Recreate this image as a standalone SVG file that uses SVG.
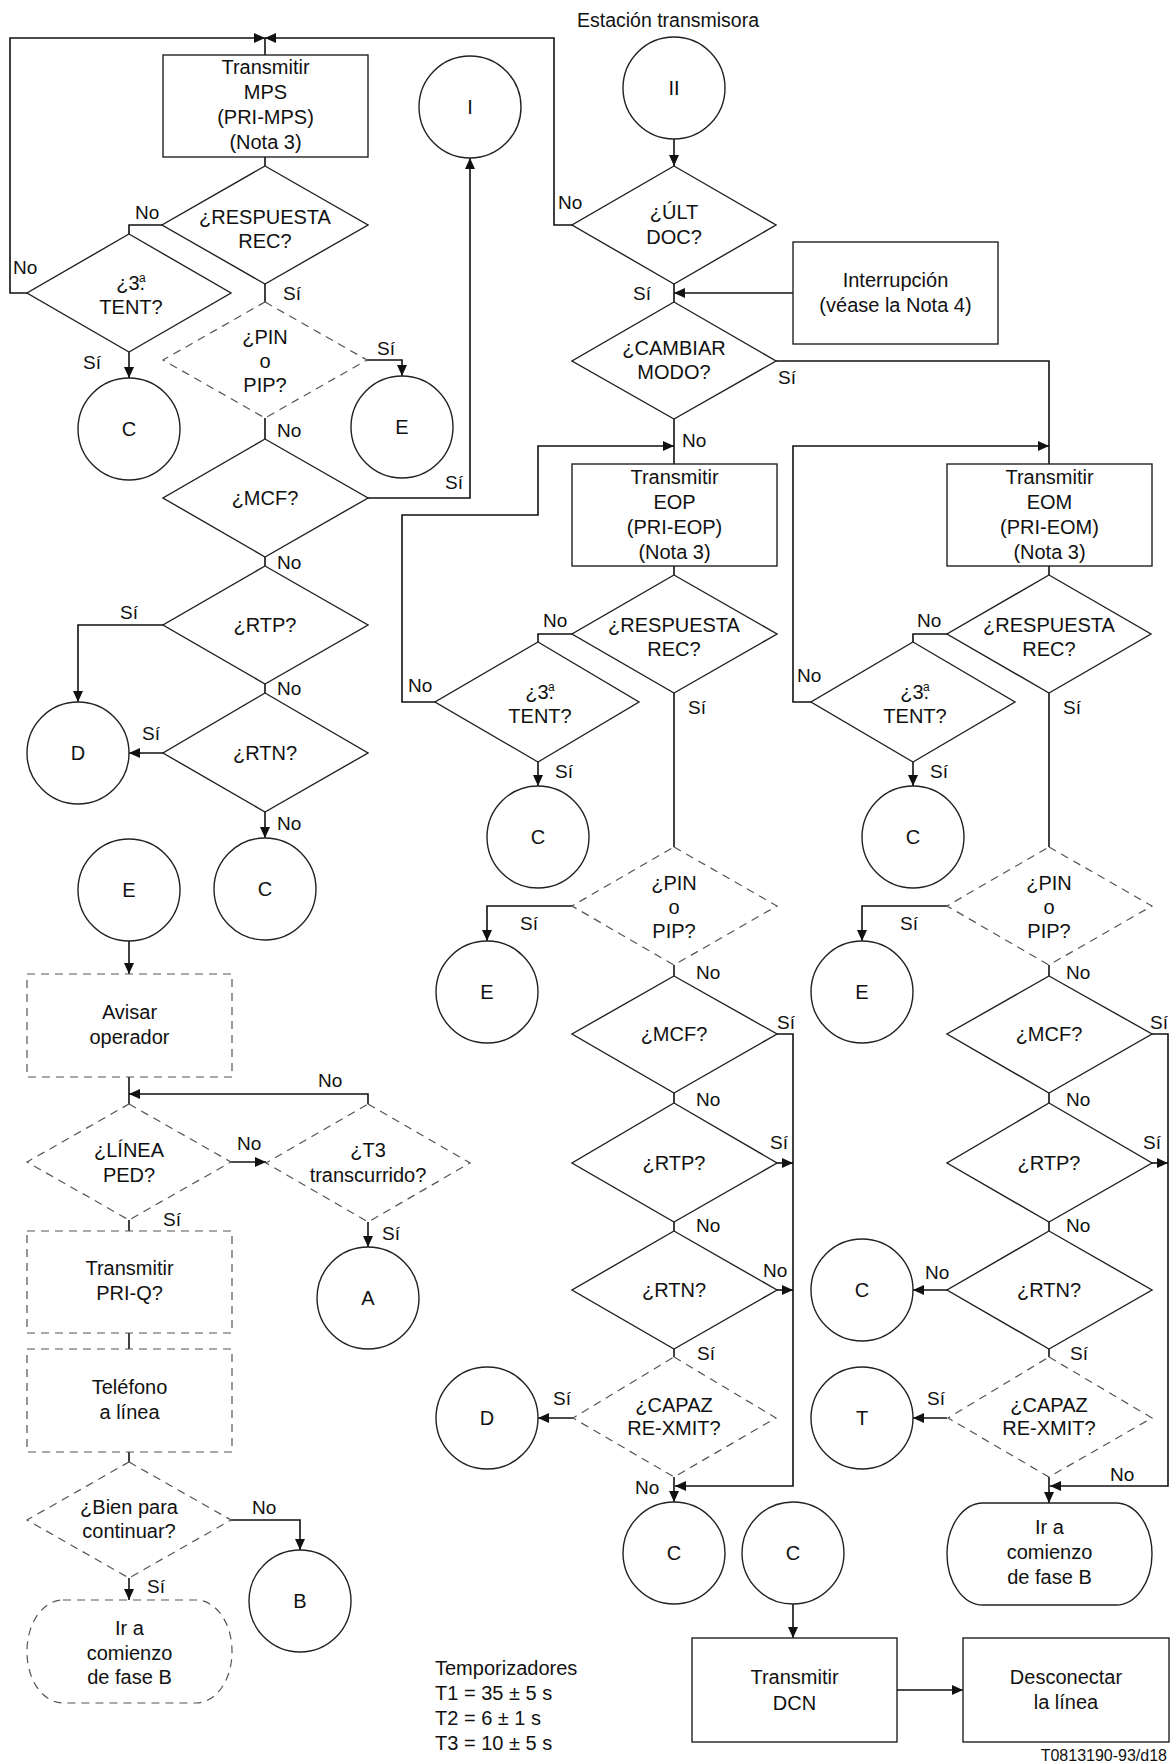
<svg xmlns="http://www.w3.org/2000/svg" width="1174" height="1763" viewBox="0 0 1174 1763">
<style>
  .n{fill:#fff;stroke:#222;stroke-width:1.4}
  .d{fill:#fff;stroke:#555;stroke-width:1.2;stroke-dasharray:8 6}
  .c{fill:none;stroke:#111;stroke-width:1.6}
  text{font-family:"Liberation Sans",Arial,sans-serif;fill:#111}
  .t{font-size:20px;text-anchor:middle}
  .l{font-size:19px}
  .s{font-size:12px}
</style>
<defs>
  <marker id="ah" markerUnits="userSpaceOnUse" markerWidth="11" markerHeight="10" refX="11" refY="5" orient="auto">
    <path d="M0,0 L11,5 L0,10 z" fill="#111"/>
  </marker>
</defs>
<rect width="1174" height="1763" fill="#fff"/>

<!-- connectors -->
<g id="connectors" class="c">
  <path d="M27,293 H10 V38 H265" marker-end="url(#ah)"/>
  <path d="M572,225 H554 V38 H265" marker-end="url(#ah)"/>
  <path d="M265,38 V55"/>
  <path d="M265,157 V166"/>
  <path d="M163,225 H129 V234"/>
  <path d="M129,352 V378" marker-end="url(#ah)"/>
  <path d="M265,284 V302"/>
  <path d="M367,360 H402 V376" marker-end="url(#ah)"/>
  <path d="M265,418 V439"/>
  <path d="M368,498 H470 V158" marker-end="url(#ah)"/>
  <path d="M265,557 V566"/>
  <path d="M163,625 H78 V702" marker-end="url(#ah)"/>
  <path d="M265,684 V693"/>
  <path d="M163,753 H129" marker-end="url(#ah)"/>
  <path d="M265,812 V838" marker-end="url(#ah)"/>
  <path d="M129,941 V974" marker-end="url(#ah)"/>
  <path d="M129,1077 V1104"/>
  <path d="M368,1104 V1094 H129" marker-end="url(#ah)"/>
  <path d="M231,1162 H266" marker-end="url(#ah)"/>
  <path d="M368,1222 V1247" marker-end="url(#ah)"/>
  <path d="M129,1220 V1231"/>
  <path d="M129,1333 V1349"/>
  <path d="M129,1452 V1462"/>
  <path d="M231,1520 H300 V1550" marker-end="url(#ah)"/>
  <path d="M129,1578 V1600" marker-end="url(#ah)"/>

  <path d="M674,139 V166" marker-end="url(#ah)"/>
  <path d="M674,284 V302"/>
  <path d="M793,293 H674" marker-end="url(#ah)"/>
  <path d="M674,419 V464"/>
  <path d="M435,702 H402 V515 H538 V446 H674" marker-end="url(#ah)"/>
  <path d="M776,361 H1049 V464"/>
  <path d="M811,702 H793 V446 H1049" marker-end="url(#ah)"/>
  <path d="M674,566 V575"/>
  <path d="M572,634 H538 V642"/>
  <path d="M538,762 V786" marker-end="url(#ah)"/>
  <path d="M674,693 V847"/>
  <path d="M572,906 H487 V941" marker-end="url(#ah)"/>
  <path d="M674,965 V976"/>
  <path d="M674,1093 V1103"/>
  <path d="M674,1222 V1231"/>
  <path d="M674,1349 V1357"/>
  <path d="M777,1034 H793 V1486 H675" marker-end="url(#ah)"/>
  <path d="M777,1163 H793" marker-end="url(#ah)"/>
  <path d="M777,1290 H793" marker-end="url(#ah)"/>
  <path d="M573,1418 H538" marker-end="url(#ah)"/>
  <path d="M674,1477 V1502" marker-end="url(#ah)"/>
  <path d="M793,1604 V1638" marker-end="url(#ah)"/>
  <path d="M897,1690 H963" marker-end="url(#ah)"/>

  <path d="M1049,566 V575"/>
  <path d="M947,634 H913 V642"/>
  <path d="M913,762 V786" marker-end="url(#ah)"/>
  <path d="M1049,693 V847"/>
  <path d="M947,906 H862 V941" marker-end="url(#ah)"/>
  <path d="M1049,965 V976"/>
  <path d="M1049,1093 V1103"/>
  <path d="M1049,1222 V1231"/>
  <path d="M1049,1349 V1357"/>
  <path d="M1152,1034 H1168 V1486 H1050" marker-end="url(#ah)"/>
  <path d="M1152,1163 H1168" marker-end="url(#ah)"/>
  <path d="M947,1290 H913" marker-end="url(#ah)"/>
  <path d="M947,1418 H913" marker-end="url(#ah)"/>
  <path d="M1049,1477 V1503" marker-end="url(#ah)"/>
</g>

<!-- branch labels -->
<g id="labels" class="l">
  <text x="135" y="219">No</text>
  <text x="13" y="274">No</text>
  <text x="83" y="369">Sí</text>
  <text x="283" y="300">Sí</text>
  <text x="377" y="355">Sí</text>
  <text x="277" y="437">No</text>
  <text x="445" y="489">Sí</text>
  <text x="277" y="569">No</text>
  <text x="120" y="619">Sí</text>
  <text x="277" y="695">No</text>
  <text x="142" y="740">Sí</text>
  <text x="277" y="830">No</text>
  <text x="318" y="1087">No</text>
  <text x="237" y="1150">No</text>
  <text x="382" y="1240">Sí</text>
  <text x="163" y="1226">Sí</text>
  <text x="252" y="1514">No</text>
  <text x="147" y="1593">Sí</text>

  <text x="558" y="209">No</text>
  <text x="633" y="300">Sí</text>
  <text x="778" y="384">Sí</text>
  <text x="682" y="447">No</text>
  <text x="543" y="627">No</text>
  <text x="408" y="692">No</text>
  <text x="555" y="778">Sí</text>
  <text x="688" y="714">Sí</text>
  <text x="520" y="930">Sí</text>
  <text x="696" y="979">No</text>
  <text x="777" y="1029">Sí</text>
  <text x="696" y="1106">No</text>
  <text x="770" y="1149">Sí</text>
  <text x="696" y="1232">No</text>
  <text x="763" y="1277">No</text>
  <text x="697" y="1360">Sí</text>
  <text x="553" y="1405">Sí</text>
  <text x="635" y="1494">No</text>

  <text x="917" y="627">No</text>
  <text x="797" y="682">No</text>
  <text x="930" y="778">Sí</text>
  <text x="1063" y="714">Sí</text>
  <text x="900" y="930">Sí</text>
  <text x="1066" y="979">No</text>
  <text x="1150" y="1029">Sí</text>
  <text x="1066" y="1106">No</text>
  <text x="1143" y="1149">Sí</text>
  <text x="1066" y="1232">No</text>
  <text x="925" y="1279">No</text>
  <text x="1070" y="1360">Sí</text>
  <text x="927" y="1405">Sí</text>
  <text x="1110" y="1481">No</text>
</g>

<text class="t" x="668" y="27" style="font-size:19.5px">Estación transmisora</text>

<!-- left column: MPS loop -->
<g id="mps">
  <rect class="n" x="163" y="55" width="205" height="102"/>
  <text class="t" x="265.5" y="74">Transmitir</text>
  <text class="t" x="265.5" y="99">MPS</text>
  <text class="t" x="265.5" y="124">(PRI-MPS)</text>
  <text class="t" x="265.5" y="149">(Nota 3)</text>
</g>
<g id="resp1">
  <polygon class="n" points="265,166 368,225 265,284 162,225"/>
  <text class="t" x="265" y="224">¿RESPUESTA</text>
  <text class="t" x="265" y="248">REC?</text>
</g>
<g id="tent1">
  <polygon class="n" points="129,234 231,293 129,352 27,293"/>
  <text class="t" x="131" y="290">¿3.<tspan class="s" dx="-6" dy="-8">a</tspan></text>
  <text class="t" x="131" y="314">TENT?</text>
</g>
<g id="pin1">
  <polygon class="d" points="265,302 367,360 265,418 163,360"/>
  <text class="t" x="265" y="344">¿PIN</text>
  <text class="t" x="265" y="368">o</text>
  <text class="t" x="265" y="392">PIP?</text>
</g>
<g id="mcf1">
  <polygon class="n" points="265,439 368,498 265,557 163,498"/>
  <text class="t" x="265" y="505">¿MCF?</text>
</g>
<g id="rtp1">
  <polygon class="n" points="265,566 368,625 265,684 163,625"/>
  <text class="t" x="265" y="632">¿RTP?</text>
</g>
<g id="rtn1">
  <polygon class="n" points="265,693 368,753 265,812 163,753"/>
  <text class="t" x="265" y="760">¿RTN?</text>
</g>
<g id="c1"><circle class="n" cx="129" cy="429" r="51"/><text class="t" x="129" y="436">C</text></g>
<g id="e1"><circle class="n" cx="402" cy="427" r="51"/><text class="t" x="402" y="434">E</text></g>
<g id="i"><circle class="n" cx="470" cy="107" r="51"/><text class="t" x="470" y="114">I</text></g>
<g id="d1"><circle class="n" cx="78" cy="753" r="51"/><text class="t" x="78" y="760">D</text></g>
<g id="c2"><circle class="n" cx="265" cy="889" r="51"/><text class="t" x="265" y="896">C</text></g>

<!-- left column: operator branch -->
<g id="e2"><circle class="n" cx="129" cy="890" r="51"/><text class="t" x="129" y="897">E</text></g>
<g id="avisar">
  <rect class="d" x="27" y="974" width="205" height="103"/>
  <text class="t" x="129.5" y="1019">Avisar</text>
  <text class="t" x="129.5" y="1044">operador</text>
</g>
<g id="linea">
  <polygon class="d" points="129,1104 231,1162 129,1220 27,1162"/>
  <text class="t" x="129" y="1157">¿LÍNEA</text>
  <text class="t" x="129" y="1182">PED?</text>
</g>
<g id="t3">
  <polygon class="d" points="368,1104 470,1163 368,1222 266,1163"/>
  <text class="t" x="368" y="1157">¿T3</text>
  <text class="t" x="368" y="1182">transcurrido?</text>
</g>
<g id="a"><circle class="n" cx="368" cy="1298" r="51"/><text class="t" x="368" y="1305">A</text></g>
<g id="priq">
  <rect class="d" x="27" y="1231" width="205" height="102"/>
  <text class="t" x="129.5" y="1275">Transmitir</text>
  <text class="t" x="129.5" y="1300">PRI-Q?</text>
</g>
<g id="telefono">
  <rect class="d" x="27" y="1349" width="205" height="103"/>
  <text class="t" x="129.5" y="1394">Teléfono</text>
  <text class="t" x="129.5" y="1419">a línea</text>
</g>
<g id="bien">
  <polygon class="d" points="129,1462 231,1520 129,1578 27,1520"/>
  <text class="t" x="129" y="1514">¿Bien para</text>
  <text class="t" x="129" y="1538">continuar?</text>
</g>
<g id="b"><circle class="n" cx="300" cy="1601" r="51"/><text class="t" x="300" y="1608">B</text></g>
<g id="fase-b1">
  <rect class="d" x="27" y="1600" width="205" height="103" rx="36" ry="51"/>
  <text class="t" x="129.5" y="1635">Ir a</text>
  <text class="t" x="129.5" y="1660">comienzo</text>
  <text class="t" x="129.5" y="1684">de fase B</text>
</g>

<!-- middle column: EOP -->
<g id="ii"><circle class="n" cx="674" cy="88" r="51"/><text class="t" x="674" y="95">II</text></g>
<g id="ult">
  <polygon class="n" points="674,166 776,225 674,284 572,225"/>
  <text class="t" x="674" y="219">¿ÚLT</text>
  <text class="t" x="674" y="244">DOC?</text>
</g>
<g id="interrupcion">
  <rect class="n" x="793" y="242" width="205" height="102"/>
  <text class="t" x="895.5" y="287">Interrupción</text>
  <text class="t" x="895.5" y="312">(véase la Nota 4)</text>
</g>
<g id="cambiar">
  <polygon class="n" points="674,302 776,361 674,419 572,361"/>
  <text class="t" x="674" y="355">¿CAMBIAR</text>
  <text class="t" x="674" y="379">MODO?</text>
</g>
<g id="eop">
  <rect class="n" x="572" y="464" width="205" height="102"/>
  <text class="t" x="674.5" y="484">Transmitir</text>
  <text class="t" x="674.5" y="509">EOP</text>
  <text class="t" x="674.5" y="534">(PRI-EOP)</text>
  <text class="t" x="674.5" y="559">(Nota 3)</text>
</g>
<g id="resp2">
  <polygon class="n" points="674,575 777,634 674,693 572,634"/>
  <text class="t" x="674" y="632">¿RESPUESTA</text>
  <text class="t" x="674" y="656">REC?</text>
</g>
<g id="tent2">
  <polygon class="n" points="538,642 639,702 538,762 435,702"/>
  <text class="t" x="540" y="699">¿3.<tspan class="s" dx="-6" dy="-8">a</tspan></text>
  <text class="t" x="540" y="723">TENT?</text>
</g>
<g id="c3"><circle class="n" cx="538" cy="837" r="51"/><text class="t" x="538" y="844">C</text></g>
<g id="pin2">
  <polygon class="d" points="674,847 777,906 674,965 572,906"/>
  <text class="t" x="674" y="890">¿PIN</text>
  <text class="t" x="674" y="914">o</text>
  <text class="t" x="674" y="938">PIP?</text>
</g>
<g id="e3"><circle class="n" cx="487" cy="992" r="51"/><text class="t" x="487" y="999">E</text></g>
<g id="mcf2">
  <polygon class="n" points="674,976 777,1034 674,1093 572,1034"/>
  <text class="t" x="674" y="1041">¿MCF?</text>
</g>
<g id="rtp2">
  <polygon class="n" points="674,1103 777,1163 674,1222 572,1163"/>
  <text class="t" x="674" y="1170">¿RTP?</text>
</g>
<g id="rtn2">
  <polygon class="n" points="674,1231 777,1290 674,1349 572,1290"/>
  <text class="t" x="674" y="1297">¿RTN?</text>
</g>
<g id="capaz2">
  <polygon class="d" points="674,1357 776,1418 674,1477 573,1418"/>
  <text class="t" x="674" y="1412">¿CAPAZ</text>
  <text class="t" x="674" y="1435">RE-XMIT?</text>
</g>
<g id="d2"><circle class="n" cx="487" cy="1418" r="51"/><text class="t" x="487" y="1425">D</text></g>
<g id="c4"><circle class="n" cx="674" cy="1553" r="51"/><text class="t" x="674" y="1560">C</text></g>
<g id="c5"><circle class="n" cx="793" cy="1553" r="51"/><text class="t" x="793" y="1560">C</text></g>
<g id="dcn">
  <rect class="n" x="692" y="1638" width="205" height="104"/>
  <text class="t" x="794.5" y="1684">Transmitir</text>
  <text class="t" x="794.5" y="1710">DCN</text>
</g>
<g id="desconectar">
  <rect class="n" x="963" y="1638" width="206" height="104"/>
  <text class="t" x="1066" y="1684">Desconectar</text>
  <text class="t" x="1066" y="1709">la línea</text>
</g>

<!-- right column: EOM -->
<g id="eom">
  <rect class="n" x="947" y="464" width="205" height="102"/>
  <text class="t" x="1049.5" y="484">Transmitir</text>
  <text class="t" x="1049.5" y="509">EOM</text>
  <text class="t" x="1049.5" y="534">(PRI-EOM)</text>
  <text class="t" x="1049.5" y="559">(Nota 3)</text>
</g>
<g id="resp3">
  <polygon class="n" points="1049,575 1151,634 1049,693 947,634"/>
  <text class="t" x="1049" y="632">¿RESPUESTA</text>
  <text class="t" x="1049" y="656">REC?</text>
</g>
<g id="tent3">
  <polygon class="n" points="913,642 1015,702 913,762 811,702"/>
  <text class="t" x="915" y="699">¿3.<tspan class="s" dx="-6" dy="-8">a</tspan></text>
  <text class="t" x="915" y="723">TENT?</text>
</g>
<g id="c6"><circle class="n" cx="913" cy="837" r="51"/><text class="t" x="913" y="844">C</text></g>
<g id="pin3">
  <polygon class="d" points="1049,847 1152,906 1049,965 947,906"/>
  <text class="t" x="1049" y="890">¿PIN</text>
  <text class="t" x="1049" y="914">o</text>
  <text class="t" x="1049" y="938">PIP?</text>
</g>
<g id="e4"><circle class="n" cx="862" cy="992" r="51"/><text class="t" x="862" y="999">E</text></g>
<g id="mcf3">
  <polygon class="n" points="1049,976 1152,1034 1049,1093 947,1034"/>
  <text class="t" x="1049" y="1041">¿MCF?</text>
</g>
<g id="rtp3">
  <polygon class="n" points="1049,1103 1152,1163 1049,1222 947,1163"/>
  <text class="t" x="1049" y="1170">¿RTP?</text>
</g>
<g id="rtn3">
  <polygon class="n" points="1049,1231 1152,1290 1049,1349 947,1290"/>
  <text class="t" x="1049" y="1297">¿RTN?</text>
</g>
<g id="c7"><circle class="n" cx="862" cy="1290" r="51"/><text class="t" x="862" y="1297">C</text></g>
<g id="capaz3">
  <polygon class="d" points="1049,1357 1152,1418 1049,1477 948,1418"/>
  <text class="t" x="1049" y="1412">¿CAPAZ</text>
  <text class="t" x="1049" y="1435">RE-XMIT?</text>
</g>
<g id="t"><circle class="n" cx="862" cy="1418" r="51"/><text class="t" x="862" y="1425">T</text></g>
<g id="fase-b2">
  <rect class="n" x="947" y="1503" width="205" height="102" rx="36" ry="51"/>
  <text class="t" x="1049.5" y="1534">Ir a</text>
  <text class="t" x="1049.5" y="1559">comienzo</text>
  <text class="t" x="1049.5" y="1584">de fase B</text>
</g>

<!-- timer values and figure id -->
<g id="timers" style="font-size:20px">
  <text x="435" y="1675">Temporizadores</text>
  <text x="435" y="1700">T1 = 35 ± 5 s</text>
  <text x="435" y="1725">T2 = 6 ± 1 s</text>
  <text x="435" y="1750">T3 = 10 ± 5 s</text>
</g>
<text x="1167" y="1761" style="font-size:16px;text-anchor:end">T0813190-93/d18</text>
</svg>
